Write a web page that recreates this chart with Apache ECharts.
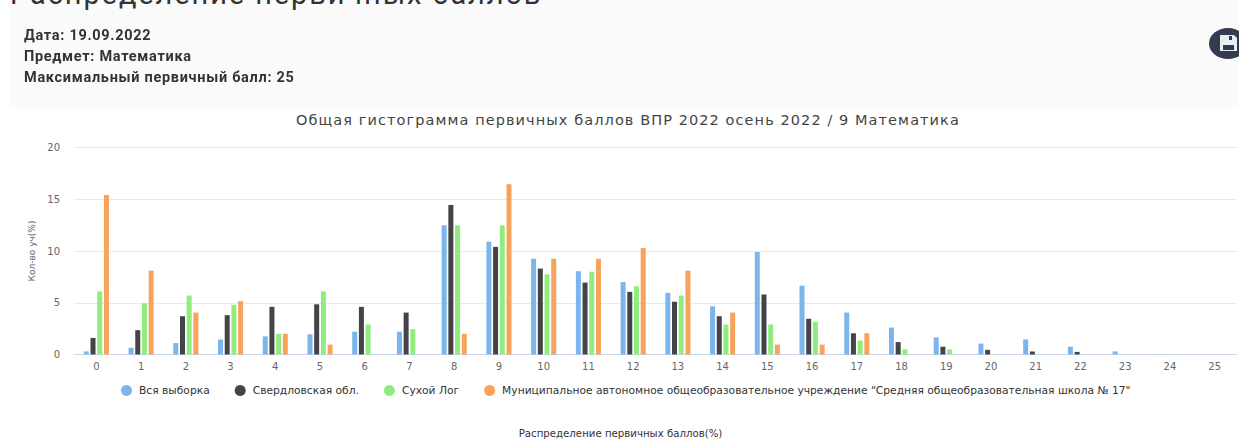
<!DOCTYPE html>
<html><head><meta charset="utf-8">
<script src="https://cdn.jsdelivr.net/npm/echarts@6/dist/echarts.min.js"></script>
<style>
html,body{margin:0;padding:0;width:1239px;height:439px;overflow:hidden;background:#fff;}
#page{position:absolute;left:9px;top:0;width:1230px;height:108px;background:#fafafa;}
#h{position:absolute;left:10px;top:-23px;font:400 29px/34px "Roboto",sans-serif;letter-spacing:1.9px;color:#333;white-space:nowrap;}
.m{position:absolute;left:24px;font:700 14.5px/16px "Roboto",sans-serif;letter-spacing:.7px;color:#333;white-space:nowrap;filter:blur(.3px);}
#save{position:absolute;left:1209px;top:28px;width:38px;height:31px;border-radius:50%;background:#343a4f;}
#save svg{position:absolute;left:11px;top:7px;}
#c{position:absolute;left:9px;top:108px;width:1230px;height:331px;}
#c svg text[style*="14.5px"]{letter-spacing:1.08px;}
</style></head><body>
<div id="page"></div><div id="h">Распределение первичных баллов</div>
<div class="m" style="top:28px">Дата: 19.09.2022</div>
<div class="m" style="top:49px">Предмет: Математика</div>
<div class="m" style="top:70px">Максимальный первичный балл: 25</div>
<div id="save"><svg width="17" height="16" viewBox="0 0 17 16"><path d="M0 0h14l3 3v13H0z" fill="#e8eef4"/><rect x="9" y="1" width="3" height="4" fill="#343a4f"/><rect x="3" y="10" width="11" height="5" fill="#343a4f"/></svg></div>
<div id="c"></div>
<script>
const categories=["0","1","2","3","4","5","6","7","8","9","10","11","12","13","14","15","16","17","18","19","20","21","22","23","24","25"];
const seriesNames=["Вся выборка","Свердловская обл.","Сухой Лог","Муниципальное автономное общеобразовательное учреждение \"Средняя общеобразовательная школа № 17\""];
const allSample=[0.3,0.65,1.1,1.45,1.75,1.95,2.2,2.2,12.5,10.9,9.25,8.05,7,5.95,4.65,9.9,6.65,4.05,2.6,1.65,1.05,1.45,0.75,0.3,0.02,0];
const sverdlovsk=[1.6,2.35,3.7,3.8,4.6,4.85,4.6,4.05,14.45,10.4,8.3,6.95,6.05,5.1,3.7,5.8,3.45,2.05,1.2,0.75,0.45,0.3,0.25,0,0,0];
const sukhoiLog=[6.1,4.95,5.7,4.8,2,6.1,2.9,2.45,12.5,12.5,7.75,8,6.6,5.7,2.9,2.9,3.15,1.35,0.5,0.5,0,0,0,0,0,0];
const school17=[15.4,8.1,4.05,5.15,2,0.95,0,0,2,16.45,9.25,9.25,10.3,8.1,4.05,0.95,0.95,2.05,0,0,0,0,0,0,0,0];
const colors=["#7cb5ec","#434348","#90ed7d","#f7a35c"];
const values=[allSample,sverdlovsk,sukhoiLog,school17];
const chart=echarts.init(document.getElementById('c'),null,{renderer:'svg'});
chart.setOption({
 animation:false,
 backgroundColor:'#fff',
 color:colors,
 title:{text:'Общая гистограмма первичных баллов ВПР 2022 осень 2022 / 9 Математика',left:614,top:-1,textAlign:'center',
  textStyle:{fontFamily:'DejaVu Sans',fontSize:14.5,fontWeight:'normal',color:'#444'}},
 legend:{left:107,top:272,icon:'circle',itemWidth:11,itemHeight:11,itemGap:25,
  textStyle:{fontFamily:'DejaVu Sans',fontSize:10.7,color:'#333',padding:[0,0,0,2]}},
 grid:{left:65,right:2,top:39.5,height:207,outerBoundsMode:'none'},
 xAxis:{type:'category',data:categories,name:'Распределение первичных баллов(%)',nameLocation:'middle',nameGap:74,
  nameTextStyle:{fontFamily:'DejaVu Sans',fontSize:10.2,color:'#333',padding:[0,70,0,0]},
  axisLine:{lineStyle:{color:'#ccd6eb'}},axisTick:{show:false},
  axisLabel:{fontFamily:'DejaVu Sans',fontSize:10,color:'#666',margin:7,interval:0}},
 yAxis:{type:'value',min:0,max:20,interval:5,name:'Кол-во уч(%)',nameLocation:'middle',nameGap:38,
  nameTextStyle:{fontFamily:'DejaVu Sans',fontSize:9,color:'#666'},
  axisLine:{show:false},axisTick:{show:false},splitLine:{lineStyle:{color:'#eaeaea'}},
  axisLabel:{fontFamily:'DejaVu Sans',fontSize:10,color:'#666',margin:14}},
 series:seriesNames.map((n,i)=>({name:n,type:'bar',data:values[i],barWidth:5,barGap:'34%'}))
});
</script></body></html>
